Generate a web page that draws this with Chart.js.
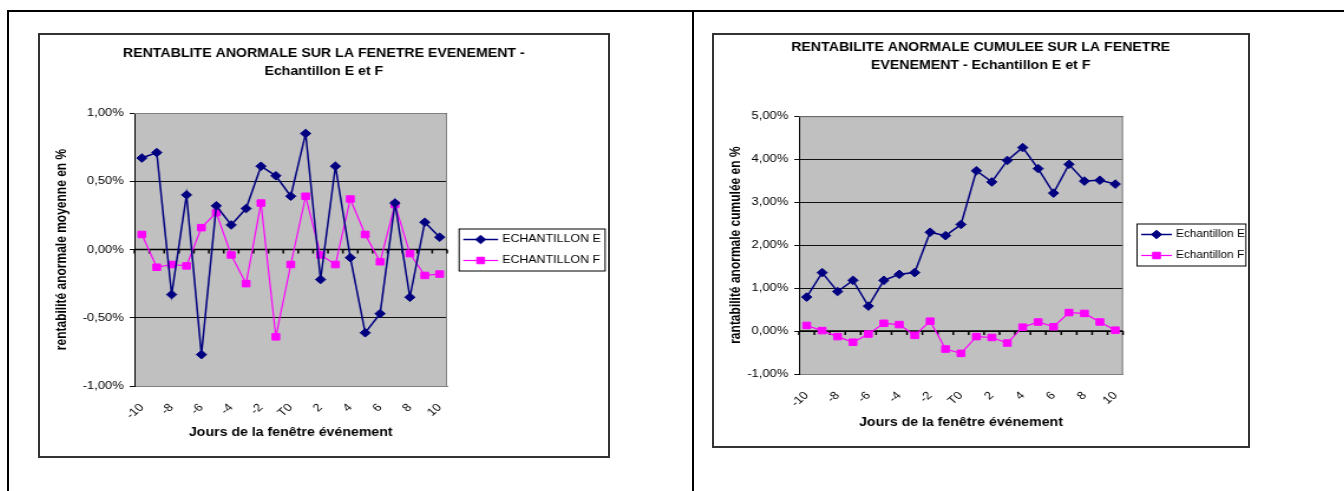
<!DOCTYPE html>
<html lang="fr">
<head>
<meta charset="utf-8">
<title>Rentabilité anormale - Echantillon E et F</title>
<script src="https://cdn.jsdelivr.net/npm/chart.js@4.4.1/dist/chart.umd.min.js"></script>
<style>
  html, body { margin: 0; padding: 0; background: #fff; width: 1344px; height: 491px; overflow: hidden; }
  .rule { position: absolute; background: #000; }
  .box { position: absolute; border: 2px solid #333; background: #fff; box-sizing: border-box; overflow: hidden; }
  .stretch { position: absolute; left: 0; top: 0; transform-origin: 0 0; transform: scaleX(1.18); }
</style>
</head>
<body>
<div class="rule" style="left:7px;top:10px;width:1337px;height:2px"></div>
<div class="rule" style="left:7px;top:10px;width:2px;height:481px"></div>
<div class="rule" style="left:692px;top:10px;width:2px;height:481px"></div>

<div class="box" style="left:38px;top:33px;width:572px;height:425px">
  <div class="stretch" style="width:481px;height:421px"><canvas id="chartAR"></canvas></div>
</div>
<div class="box" style="left:712px;top:33px;width:538px;height:415px">
  <div class="stretch" style="width:452px;height:411px"><canvas id="chartCAR"></canvas></div>
</div>

<script>
// jours de la fenêtre événement
const days = ['-10', '-9', '-8', '-7', '-6', '-5', '-4', '-3', '-2', '-1', 'T0',
              '1', '2', '3', '4', '5', '6', '7', '8', '9', '10'];

// rentabilité anormale moyenne (%)
const arE = [0.67, 0.71, -0.33, 0.40, -0.77, 0.32, 0.18, 0.30, 0.61, 0.54, 0.39,
             0.85, -0.22, 0.61, -0.06, -0.61, -0.47, 0.34, -0.35, 0.20, 0.09];
const arF = [0.11, -0.13, -0.11, -0.12, 0.16, 0.27, -0.04, -0.25, 0.34, -0.64, -0.11,
             0.39, -0.04, -0.11, 0.37, 0.11, -0.09, 0.33, -0.03, -0.19, -0.18];

// rentabilité anormale cumulée (%)
const carE = [0.79, 1.36, 0.92, 1.18, 0.58, 1.18, 1.32, 1.36, 2.30, 2.22, 2.48,
              3.73, 3.47, 3.97, 4.27, 3.78, 3.21, 3.88, 3.49, 3.51, 3.42];
const carF = [0.13, 0.01, -0.13, -0.26, -0.07, 0.18, 0.15, -0.10, 0.23, -0.42, -0.52,
              -0.13, -0.15, -0.28, 0.09, 0.21, 0.10, 0.43, 0.41, 0.21, 0.02];

// bornes de l'axe vertical : [min, max, pas]
const arAxis = [-1, 1, 0.5];
const carAxis = [-1, 5, 1];

const FONT = "'Liberation Sans', Arial, sans-serif";
Chart.defaults.font.family = FONT;
Chart.defaults.color = '#000';

const pct = v => v.toFixed(2).replace('.', ',') + '%';

// fond gris, cadre et axe des abscisses à 0 avec ses graduations
const plotFrame = {
  id: 'plotFrame',
  beforeDraw(chart) {
    const { ctx, chartArea: a } = chart;
    ctx.save();
    ctx.fillStyle = '#c0c0c0';
    ctx.fillRect(a.left, a.top, a.width, a.height);
    ctx.restore();
  },
  beforeDatasetsDraw(chart) {
    const { ctx, chartArea: a, scales: { x, y } } = chart;
    ctx.save();
    ctx.strokeStyle = '#808080';
    ctx.lineWidth = 1;
    ctx.beginPath();
    ctx.moveTo(a.left, a.top + 0.5);
    ctx.lineTo(a.right - 0.5, a.top + 0.5);
    ctx.lineTo(a.right - 0.5, a.bottom);
    ctx.stroke();

    const y0 = y.getPixelForValue(0);
    const n = days.length;
    ctx.strokeStyle = '#000';
    ctx.lineWidth = 1.5;
    ctx.beginPath();
    ctx.moveTo(a.left, y0);
    ctx.lineTo(a.right, y0);
    for (let i = 0; i <= n; i++) {
      const px = i === 0 ? a.left : i === n ? a.right
        : (x.getPixelForValue(i - 1) + x.getPixelForValue(i)) / 2;
      ctx.moveTo(px, y0);
      ctx.lineTo(px, y0 + 4);
    }
    ctx.stroke();
    ctx.restore();
  }
};

// légende encadrée : trait + marqueur + libellé
const boxLegend = {
  id: 'boxLegend',
  afterDraw(chart, args, o) {
    const { ctx, chartArea: a } = chart;
    const sets = chart.data.datasets;
    const left = a.right + o.gap;
    const h = o.rowHeight * sets.length;
    ctx.save();
    ctx.strokeStyle = '#000';
    ctx.lineWidth = 1;
    ctx.strokeRect(left, o.top, o.width, h);
    sets.forEach((ds, i) => {
      const cy = o.top + o.rowHeight * (i + 0.5);
      ctx.strokeStyle = ds.borderColor;
      ctx.lineWidth = ds.borderWidth;
      ctx.beginPath();
      ctx.moveTo(left + 3.5, cy);
      ctx.lineTo(left + 3.5 + o.lineLen, cy);
      ctx.stroke();
      ctx.fillStyle = ds.pointBackgroundColor;
      ctx.strokeStyle = ds.pointBorderColor;
      ctx.lineWidth = 1;
      Chart.helpers.drawPoint(ctx, { pointStyle: ds.pointStyle, radius: ds.pointRadius, borderWidth: 1 },
        left + 3.5 + o.lineLen / 2, cy);
      ctx.fillStyle = '#000';
      ctx.font = o.fontSize + 'px ' + FONT;
      ctx.textBaseline = 'middle';
      ctx.textAlign = 'left';
      ctx.fillText(ds.label, left + 7 + o.lineLen, cy);
    });
    ctx.restore();
  }
};

function series(label, data, color, style, radius, width) {
  return {
    label, data,
    borderColor: color,
    borderWidth: width,
    pointStyle: style,
    pointRadius: radius,
    pointHoverRadius: radius,
    pointBackgroundColor: color,
    pointBorderColor: color,
    pointBorderWidth: 1,
    tension: 0,
    fill: false
  };
}

function makeChart(id, cfg) {
  return new Chart(document.getElementById(id), {
    type: 'line',
    data: {
      labels: days,
      datasets: [
        series(cfg.names[0], cfg.e, '#000080', 'rectRot', 4.3, 1.5),
        series(cfg.names[1], cfg.f, '#ff00ff', 'rect', 4.6, 1.2)
      ]
    },
    options: {
      responsive: true,
      maintainAspectRatio: false,
      animation: false,
      events: [],
      layout: { padding: 0 },
      plugins: {
        legend: { display: false },
        tooltip: { enabled: false },
        title: {
          display: true,
          text: cfg.title,
          color: '#000',
          font: { size: 12, weight: 'bold', lineHeight: cfg.titleLine },
          padding: cfg.titlePad
        },
        boxLegend: cfg.legend
      },
      scales: {
        x: {
          offset: true,
          grid: { display: false },
          border: { display: true, color: '#808080' },
          ticks: {
            autoSkip: false,
            minRotation: 45,
            maxRotation: 45,
            padding: 7,
            font: { size: 11 },
            callback(v, i) { return i % 2 === 0 ? this.getLabelForValue(v) : ''; }
          },
          title: {
            display: true,
            text: 'Jours de la fenêtre événement',
            font: { size: 12, weight: 'bold' },
            padding: { top: 0, bottom: 16 }
          },
          afterFit(s) { s.height = cfg.xHeight; }
        },
        y: {
          min: cfg.axis[0],
          max: cfg.axis[1],
          ticks: { stepSize: cfg.axis[2], padding: 5, font: { size: 11 }, callback: pct },
          grid: { color: '#111', tickLength: 4 },
          border: { color: '#000' },
          title: {
            display: true,
            text: cfg.yTitle,
            font: { size: 12, weight: 'bold' },
            padding: { top: 11.4, bottom: 0 }
          },
          afterFit(s) { s.width = cfg.yWidth; }
        },
        // colonne vide à droite qui réserve la place de la légende
        legendSpace: {
          type: 'linear',
          position: 'right',
          grid: { display: false },
          border: { display: false },
          ticks: { display: false },
          afterFit(s) { s.width = cfg.padRight; }
        }
      }
    },
    plugins: [plotFrame, boxLegend]
  });
}

makeChart('chartAR', {
  e: arE, f: arF,
  names: ['ECHANTILLON E', 'ECHANTILLON F'],
  title: ['RENTABLITE ANORMALE SUR LA FENETRE EVENEMENT -', 'Echantillon E et F'],
  titleLine: 1.5,
  titlePad: { top: 10, bottom: 32 },
  yTitle: 'rentabilité anormale moyenne en %',
  axis: arAxis,
  yWidth: 80,
  xHeight: 70,
  padRight: 136,
  legend: { gap: 10.2, top: 194, width: 123.7, rowHeight: 21, lineLen: 29.5, fontSize: 10.5 }
});

makeChart('chartCAR', {
  e: carE, f: carF,
  names: ['Echantillon E', 'Echantillon F'],
  title: ['RENTABILITE ANORMALE CUMULEE SUR LA FENETRE', 'EVENEMENT - Echantillon E et F'],
  titleLine: 1.55,
  titlePad: { top: 3, bottom: 41 },
  yTitle: 'rantabilité anormale cumulée en %',
  axis: carAxis,
  yWidth: 72,
  xHeight: 72,
  padRight: 105.4,
  legend: { gap: 11.9, top: 189, width: 92.3, rowHeight: 21, lineLen: 26, fontSize: 10 }
});
</script>
</body>
</html>
